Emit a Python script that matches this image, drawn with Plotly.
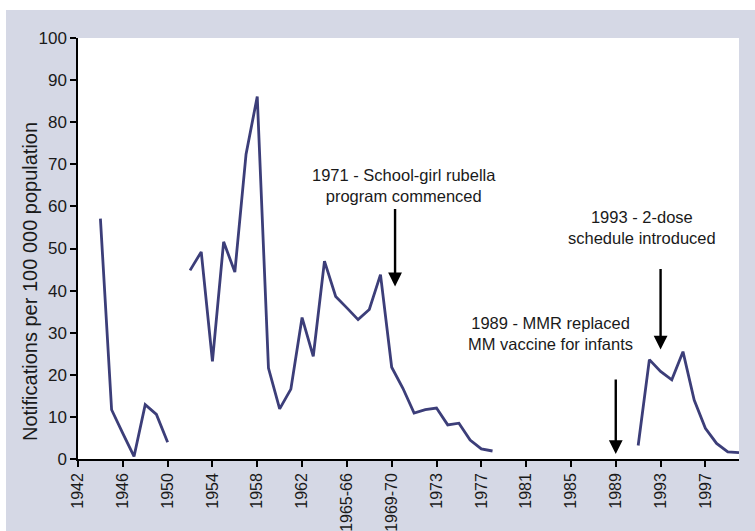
import plotly.graph_objects as go

# Notification categories (calendar years, with financial years 1963-64 to 1970-71)
categories = (
    [str(y) for y in range(1942, 1964)]
    + ["1963-64", "1964-65", "1965-66", "1966-67", "1967-68", "1968-69",
       "1969-70", "1970-71", "1971-72", "1972"]
    + [str(y) for y in range(1973, 2001)]
)

# Rubella notifications per 100 000 population (None = no data)
rates = (
    [None, None, 57.1, 11.7, 6.1, 0.6, 12.9, 10.6, 4.0, None,
     44.8, 49.2, 23.2, 51.6, 44.4, 72.4, 86.1, 21.6, 11.9, 16.6,
     33.6, 24.4, 47.0, 38.6, 35.9, 33.1, 35.5, 43.8, 21.8, 16.8,
     10.9, 11.7, 12.1, 8.1, 8.5, 4.5, 2.4, 1.9]
    + [None] * 12
    + [3.2, 23.6, 20.8, 18.8, 25.5, 14.0, 7.3, 3.7, 1.7, 1.5]
)

x_tick_labels = ["1942", "1946", "1950", "1954", "1958", "1962", "1965-66",
                 "1969-70", "1973", "1977", "1981", "1985", "1989", "1993", "1997"]
y_tick_values = list(range(0, 101, 10))
y_title = "Notifications per 100 000 population"

# Policy events: (arrow tip category index, tip value, label category index, label value, text)
events = [
    (28.3, 41.0, 29.1, 65.0, "1971 - School-girl rubella<br>program commenced"),
    (48.0, 1.2, 42.2, 29.8, "1989 - MMR replaced<br>MM vaccine for infants"),
    (52.0, 26.0, 50.3, 54.9, "1993 - 2-dose<br>schedule introduced"),
]
arrow_lengths = [79, 76, 82]

FONT = "Liberation Sans, Arial, sans-serif"
LAVENDER = "#d5d8e5"
LINE = "#3c3e79"
TEXT = "#1a1a1a"

W, H = 755, 531
ML, MR, MT, MB = 78, 16, 38, 72
pw, ph = W - ML - MR, H - MT - MB

fig = go.Figure()
fig.add_trace(go.Scatter(
    x=categories, y=rates, mode="lines",
    line=dict(color=LINE, width=2.8),
    connectgaps=False, hoverinfo="x+y", showlegend=False,
))

annotations = []
for (ax_i, ay_v, tx_i, ty_v, text), length in zip(events, arrow_lengths):
    annotations.append(dict(
        x=ax_i, y=ay_v, xref="x", yref="y", text="", showarrow=True,
        ax=0, ay=-length, arrowhead=2, arrowsize=1.15, arrowwidth=2.4,
        arrowcolor="black", standoff=0,
    ))
    annotations.append(dict(
        x=tx_i, y=ty_v, xref="x", yref="y", text=text, showarrow=False,
        font=dict(family=FONT, size=16.5, color=TEXT), align="center",
    ))

# vertical axis title, set slightly below the axis middle
annotations.append(dict(
    x=(30 - ML) / pw, y=(H - MB - 282) / ph, xref="paper", yref="paper",
    text=y_title, textangle=-90, showarrow=False,
    xanchor="center", yanchor="middle",
    font=dict(family=FONT, size=20, color=TEXT),
))

# white page edge around the shaded panel
shapes = [
    dict(type="rect", xref="paper", yref="paper",
         x0=-ML / pw, x1=(6 - ML) / pw, y0=-MB / ph, y1=(H - MB + 1) / ph,
         fillcolor="white", line=dict(width=0), layer="above"),
    dict(type="rect", xref="paper", yref="paper",
         x0=-ML / pw, x1=(W - ML + 1) / pw, y0=(H - MB - 10) / ph, y1=(H - MB + 1) / ph,
         fillcolor="white", line=dict(width=0), layer="above"),
]

fig.update_layout(
    width=W, height=H,
    margin=dict(l=ML, r=MR, t=MT, b=MB, autoexpand=False),
    paper_bgcolor=LAVENDER, plot_bgcolor="white",
    font=dict(family=FONT, color=TEXT),
    annotations=annotations, shapes=shapes,
    xaxis=dict(
        type="category", categoryorder="array", categoryarray=categories,
        range=[0, 59], tickmode="array", tickvals=x_tick_labels, ticktext=x_tick_labels,
        tickangle=-90, tickfont=dict(size=16, family=FONT, color=TEXT),
        showline=True, linecolor="black", linewidth=1.5,
        ticks="outside", ticklen=6, tickwidth=1.5, tickcolor="black",
        showgrid=False, zeroline=False, automargin=False,
    ),
    yaxis=dict(
        range=[0, 100], tickmode="array", tickvals=y_tick_values,
        tickfont=dict(size=17, family=FONT, color=TEXT),
        showline=True, linecolor="black", linewidth=1.5,
        ticks="outside", ticklen=6, tickwidth=1.5, tickcolor="black",
        showgrid=False, zeroline=False, automargin=False,
    ),
)

fig.write_html("out.html")
